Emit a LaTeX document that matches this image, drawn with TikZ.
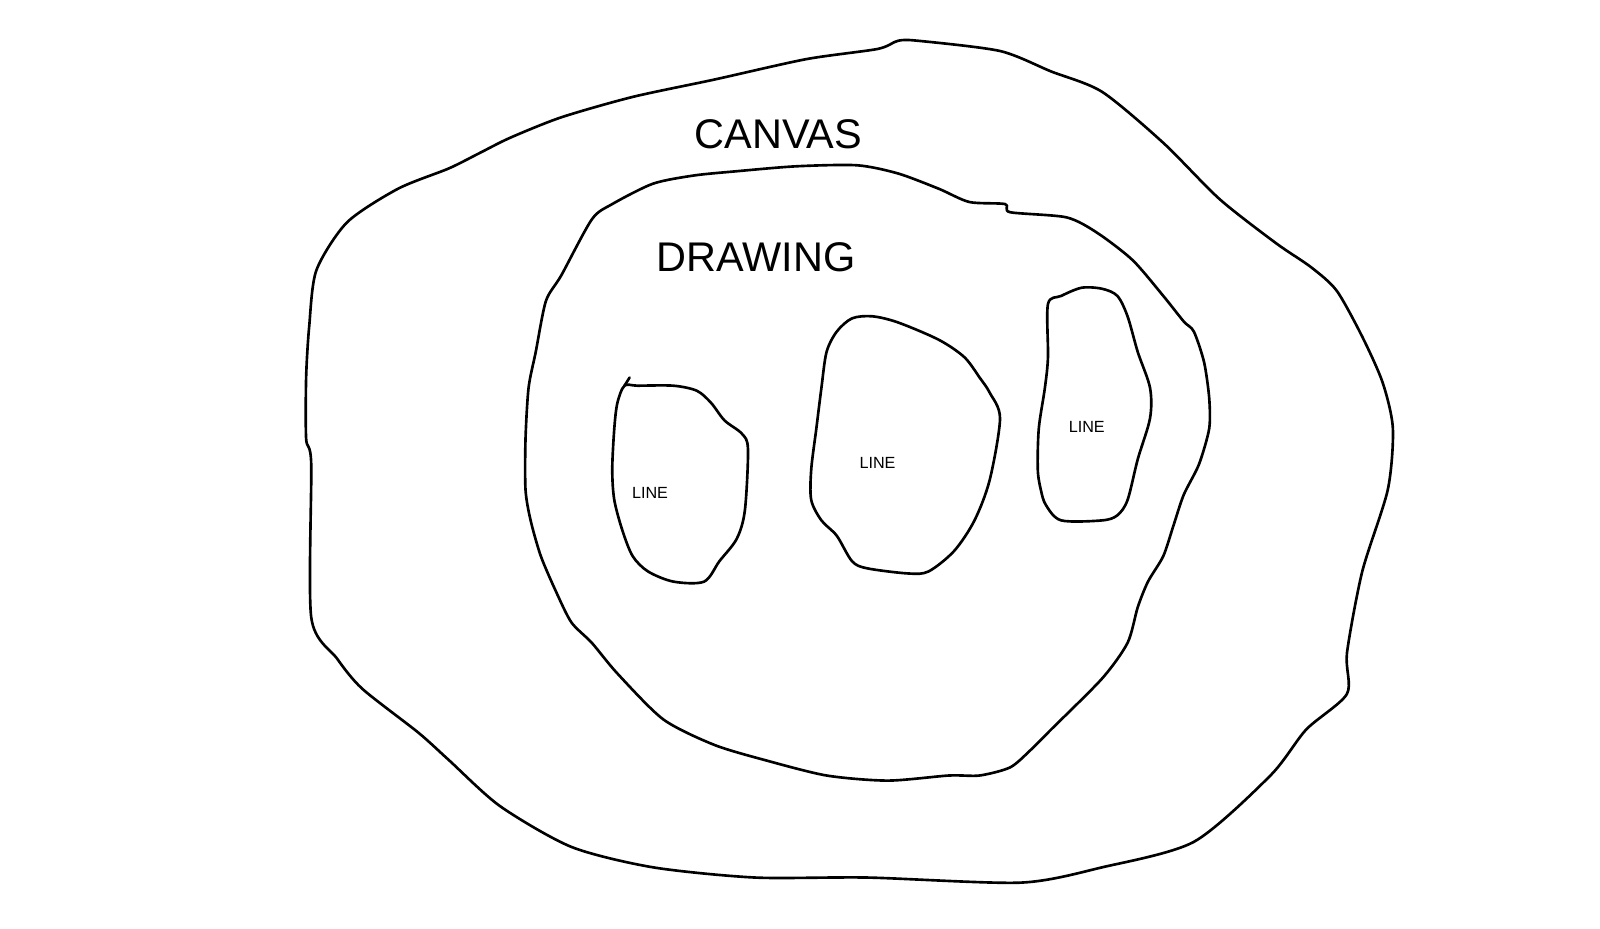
\documentclass[tikz,border=0pt]{standalone}
\usepackage{fontspec}
\setmainfont{Liberation Sans}
\begin{document}
\begin{tikzpicture}[x=0.010204cm,y=-0.010204cm,
  blob/.style={draw=black, line width=0.75pt, line join=round, line cap=round},
  bigtxt/.style={font=\fontsize{11.8pt}{13pt}\selectfont, inner sep=0pt},
  smalltxt/.style={font=\fontsize{4.6pt}{5.5pt}\selectfont, inner sep=0pt}]
\useasboundingbox (0,0) rectangle (1568,910.4);
% canvas
\draw[blob] plot[smooth cycle, tension=0.45] coordinates {
(305,455) (305,605) (330,645) (355,675) (410,718) (440,745) (490,790) (560,830) (640,850) (740,860) (850,860) (1000,865) (1080,850) (1170,825) (1245,760) (1280,715) (1320,680) (1320,640) (1335,560) (1360,480) (1365,420) (1355,375) (1335,330) (1310,285) (1285,262) (1250,238) (1195,195) (1140,140) (1080,90) (1030,70) (980,50) (900,40) (880,40) (860,48) (790,58) (700,78) (620,95) (550,115) (500,135) (470,150) (440,165) (390,185) (340,218) (310,265) (303,320) (300,370) (300,430)};
% drawing
\draw[blob] plot[smooth cycle, tension=0.45] coordinates {
(580,215) (550,270) (535,295) (525,345) (518,380) (515,430) (515,480) (520,510) (530,545) (545,580) (560,610) (580,630) (605,660) (650,705) (700,730) (750,745) (810,760) (870,765) (930,760) (960,760) (990,752) (1010,735) (1030,715) (1080,665) (1105,630) (1115,595) (1125,570) (1140,545) (1150,515) (1160,485) (1175,455) (1185,420) (1185,390) (1180,355) (1170,325) (1160,315) (1140,290) (1110,255) (1075,228) (1045,213) (990,208) (985,200) (950,198) (920,185) (880,170) (840,162) (780,163) (720,168) (680,172) (640,180) (600,200)};
% lines
\draw[blob] plot[smooth cycle, tension=0.5] coordinates {
(612,378) (605,395) (602,420) (600,460) (602,490) (610,520) (620,545) (635,560) (660,570) (690,570) (705,550) (722,528) (730,500) (733,440) (727,425) (710,412) (697,395) (683,383) (660,378) (625,378)};
\draw[blob] (612,378) -- (617,370);
\draw[blob] plot[smooth cycle, tension=0.5] coordinates {
(820,325) (810,345) (805,380) (800,420) (795,460) (795,490) (805,510) (820,525) (835,550) (850,557) (890,562) (910,560) (935,540) (955,510) (970,470) (980,410) (970,385) (960,370) (945,350) (920,333) (880,316) (855,310) (835,312)};
\draw[blob] plot[smooth cycle, tension=0.5] coordinates {
(1027,298) (1027,350) (1024,380) (1018,420) (1017,460) (1020,480) (1025,495) (1040,510) (1080,510) (1095,505) (1105,490) (1115,450) (1127,410) (1127,380) (1115,345) (1105,310) (1095,290) (1080,283) (1060,282) (1040,290)};
% texts
\node[bigtxt] (canvas) at (763,132) {CANVAS};
\node[bigtxt] (drawing) at (741,252) {DRAWING};
\node[smalltxt] (l1) at (637,483) {LINE};
\node[smalltxt] (l2) at (860,454) {LINE};
\node[smalltxt] (l3) at (1065,418) {LINE};
\end{tikzpicture}
\end{document}
